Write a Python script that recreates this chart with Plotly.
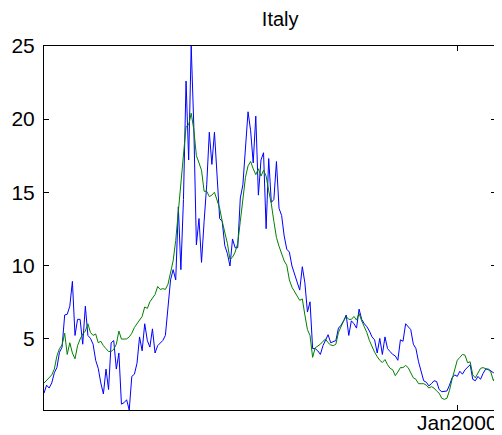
import pandas as pd
import plotly.graph_objects as go

# quarterly observations, 1960Q1 .. 2003Q4
START = "1960-01-01"
N_OBS = 176

actual = [
    1.25, 1.8, 1.6, 1.95, 2.65, 3.0, 4.05, 4.4, 6.6, 6.65,
    7.2, 8.9, 5.2, 6.3, 6.3, 4.6, 7.2, 5.2, 5.0, 4.6,
    3.5, 2.95, 1.95, 1.2, 2.9, 1.5, 4.7, 4.85, 2.9, 4.0,
    0.5, 0.6, 0.8, 0.1, 2.4, 2.55, 3.3, 5.1, 4.15, 6.0,
    4.85, 4.4, 5.65, 4.0, 4.5, 4.7, 4.85, 5.2, 7.3, 9.0,
    9.7, 9.0, 14.0, 9.7, 14.5, 22.6, 17.2, 25.0, 19.6, 11.4,
    13.2, 10.2, 13.0, 15.5, 19.1, 16.9, 19.1, 15.8, 13.2, 13.0,
    11.35, 10.8, 9.95, 11.8, 11.2, 11.2, 14.6, 15.5, 18.1, 20.5,
    19.2, 17.0, 20.2, 14.8, 17.2, 17.7, 12.5, 17.3, 14.3, 14.5,
    17.1, 13.9, 13.4, 12.0, 11.1, 10.9, 9.95, 9.4, 8.9, 8.3,
    9.9, 8.8, 6.8, 7.5, 4.3, 4.3, 4.15, 3.9, 4.5, 4.9,
    5.25, 4.7, 4.8, 4.85, 5.7, 5.9, 6.2, 6.6, 5.2, 6.2,
    6.0, 5.7, 7.0, 6.3, 6.0, 5.8, 5.5, 5.1, 4.9, 4.0,
    5.0, 3.9, 5.1, 4.3, 4.1, 3.9, 3.8, 3.5, 4.9, 4.8,
    6.0, 5.8, 5.6, 4.6, 4.3, 3.4, 2.7, 2.1, 2.0, 1.75,
    1.9, 2.1, 2.05, 1.5, 1.35, 1.4, 1.4, 1.8, 2.3, 2.5,
    2.4, 2.75, 2.55, 2.85, 3.0, 3.2, 2.2, 2.1, 2.4, 2.2,
    2.6, 2.9, 2.9, 2.75, 2.65, 2.75,
]

smoothed = [
    1.94, 2.15, 2.3, 2.5, 2.9, 3.8, 4.3, 4.55, 5.35, 3.9,
    4.7, 4.0, 3.6, 4.5, 4.95, 5.3, 5.5, 6.0, 5.4, 5.2,
    5.3, 4.7, 4.8, 4.5, 4.3, 4.1, 4.1, 4.25, 4.6, 5.5,
    4.95, 4.96, 4.96, 5.1, 5.35, 5.75, 6.0, 6.2, 6.5, 7.15,
    7.05, 7.5, 7.75, 8.0, 8.55, 8.35, 8.4, 8.35, 8.7, 9.6,
    10.3, 11.7, 13.7, 15.5, 17.4, 19.5, 19.6, 20.4, 19.3, 17.5,
    17.0, 16.5, 15.06, 15.06, 14.7, 14.8, 15.0, 14.5, 13.9, 13.0,
    12.2, 11.5, 10.4, 10.55, 10.9, 11.5, 13.0, 14.6, 16.0, 16.8,
    17.1, 16.6, 16.2, 16.6, 16.1, 16.5, 16.1, 15.1, 14.2, 13.0,
    11.9, 11.3, 10.8, 10.3, 10.0, 9.0, 8.5, 8.15, 7.9, 7.6,
    7.7, 6.6, 5.6, 5.2, 3.7, 4.35, 4.45, 4.6, 4.8, 4.95,
    4.7, 4.55, 4.5, 4.6, 5.4, 5.85, 6.2, 6.5, 6.3, 6.3,
    6.5, 6.25, 6.7, 6.2, 5.8, 5.4, 4.85, 4.4, 4.05, 3.75,
    3.5, 3.35, 3.55, 3.2, 2.95, 2.85, 2.45, 2.7, 3.0, 3.0,
    3.15, 3.0, 2.7, 2.3, 2.2, 1.9, 1.9, 1.9, 1.8, 1.6,
    1.7, 1.6, 1.4, 1.25, 0.9, 0.83, 0.9, 1.45, 2.2, 2.8,
    3.5, 3.7, 3.9, 3.85, 3.33, 3.4, 2.5, 2.3, 2.65, 2.95,
    3.0, 2.95, 2.85, 2.7, 2.1, 2.5,
]

y_ticks = [5, 10, 15, 20, 25]
x_tick_dates = ["2000-01-01"]
x_tick_labels = ["Jan2000"]

dates = pd.date_range(START, periods=N_OBS, freq="QS")

fig = go.Figure()
fig.add_trace(go.Scatter(x=dates, y=actual, mode="lines",
                         line=dict(color="#0000ff", width=1)))
fig.add_trace(go.Scatter(x=dates, y=smoothed, mode="lines",
                         line=dict(color="#008000", width=1)))

axis_style = dict(showgrid=False, zeroline=False, showline=True,
                  linecolor="black", linewidth=1, mirror="ticks",
                  ticks="inside", ticklen=5, tickcolor="black",
                  automargin=False,
                  tickfont=dict(size=21, color="black"))

fig.update_xaxes(range=[dates[0], dates[-1]], tickvals=x_tick_dates,
                 ticktext=x_tick_labels, ticklabelstandoff=-6, **axis_style)
fig.update_yaxes(range=[min(actual), max(actual)], tickvals=y_ticks,
                 ticklabelstandoff=4, **axis_style)

# the page body adds an 8px margin, so the figure is sized to fit after it
fig.update_layout(
    width=494, height=427,
    margin=dict(l=36, r=6, t=38, b=25),
    paper_bgcolor="white", plot_bgcolor="white",
    font=dict(family="Liberation Sans, Arial, sans-serif", color="black"),
    showlegend=False,
    title=dict(text="Italy", xref="container", x=0.551, xanchor="center",
               y=0.99, yanchor="top",
               font=dict(size=20, color="black")),
)

fig.write_html("out.html")
